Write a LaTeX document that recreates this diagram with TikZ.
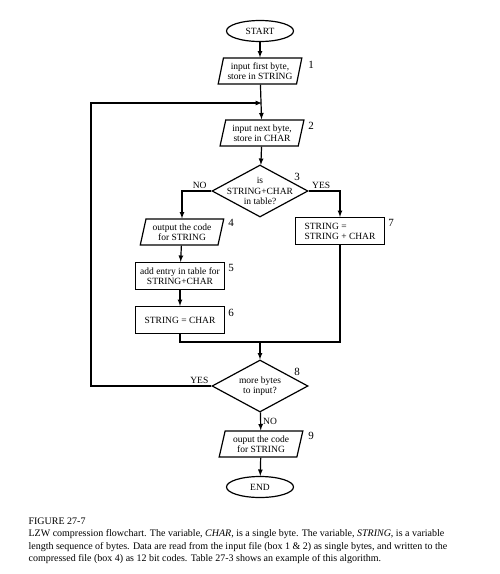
\documentclass[tikz,border=0pt]{standalone}
\usepackage{fontspec}
\setmainfont{Liberation Serif}
\usetikzlibrary{shapes.geometric}
\tikzstyle{terminal}=[ellipse,draw,minimum width=67pt,minimum height=21pt,inner sep=0pt,font=\fontsize{9.5}{10}\selectfont]
\tikzstyle{io}=[trapezium,draw,trapezium left angle=75,trapezium right angle=105,trapezium stretches=true,minimum width=84pt,minimum height=26pt,inner sep=0.5pt,align=center,font=\fontsize{9.5}{10}\selectfont]
\tikzstyle{process}=[rectangle,draw,minimum width=89pt,minimum height=27pt,inner sep=1pt,align=center,font=\fontsize{9.5}{10}\selectfont]
\tikzstyle{decision}=[diamond,draw,minimum width=96pt,minimum height=52pt,inner sep=0pt]
\tikzstyle{dtext}=[align=center,font=\fontsize{9.5}{10.5}\selectfont]
\tikzstyle{num}=[font=\fontsize{11}{12}\selectfont]
\tikzstyle{answer}=[font=\fontsize{9.5}{10}\selectfont,inner sep=2pt]
\tikzstyle{caption}=[anchor=north west,align=left,inner sep=0pt,font=\fontsize{10}{12.5}\selectfont]

\begin{document}
\begin{tikzpicture}[x=1pt,y=-1pt,>=latex,line width=1.2pt]
  \useasboundingbox (0,0) rectangle (500,574);
  \node[terminal] (start) at (260,31) {START};
  \node[io] (in1) at (260,71) {input first byte,\\store in STRING};
  \node[io] (in2) at (262,133) {input next byte,\\store in CHAR};
  \node[decision] (c3) at (260,191) {};
  \node[dtext] (q3) at (c3) {is\\STRING+CHAR\\in table?};
  \node[io] (out4) at (182,232) {output the code\\for STRING};
  \node[process] (add5) at (180,276) {add entry in table for\\STRING+CHAR};
  \node[process] (set6) at (180,320) {STRING = CHAR};
  \node[process,align=left] (upd7) at (340,231) {STRING =\\STRING + CHAR};
  \node[decision] (c8) at (260,386) {};
  \node[dtext] (q8) at (c8) {more bytes\\to input?};
  \node[io] (out9) at (261,444) {ouput the code\\for STRING};
  \node[terminal] (stop) at (260,487) {END};
  \coordinate (back) at (91,103);
  \coordinate (join) at (260,342);

  \node[num] (n1) at (311,65) {1};
  \node[num] (n2) at (311,126) {2};
  \node[num] (n3) at (297,177) {3};
  \node[num] (n4) at (231,223) {4};
  \node[num] (n5) at (231,268) {5};
  \node[num] (n6) at (231,313) {6};
  \node[num] (n7) at (391,223) {7};
  \node[num] (n8) at (297,372) {8};
  \node[num] (n9) at (311,436) {9};

  \draw[->] (start) -- (in1);
  \draw[->] (in1) -- (in2);
  \draw[->] (in2) -- (c3);
  \draw[->] (c3.west) -| node[answer,above,pos=0.2] {NO} (out4);
  \draw[->] (c3.east) -| node[answer,above,pos=0.2] {YES} (upd7);
  \draw[->] (out4) -- (add5);
  \draw[->] (add5) -- (set6);
  \draw (set6.south) |- (join) -| (upd7.south);
  \draw[->] (join) -- (c8);
  \draw[->] (c8.west) -- node[answer,above,pos=0.1] {YES} (c8.west -| back) -- (back) -- (back -| in2);
  \draw[->] (c8) -- node[answer,right] {NO} (out9);
  \draw[->] (out9) -- (stop);

  \node[caption] (cap) at (28,517) {FIGURE 27-7\\
    LZW compression flowchart.  The variable, \textit{CHAR}, is a single byte.  The variable, \textit{STRING}, is a variable\\
    length sequence of bytes.  Data are read from the input file (box 1 \& 2) as single bytes, and written to the\\
    compressed file (box 4) as 12 bit codes.  Table 27-3 shows an example of this algorithm.};
\end{tikzpicture}
\end{document}
